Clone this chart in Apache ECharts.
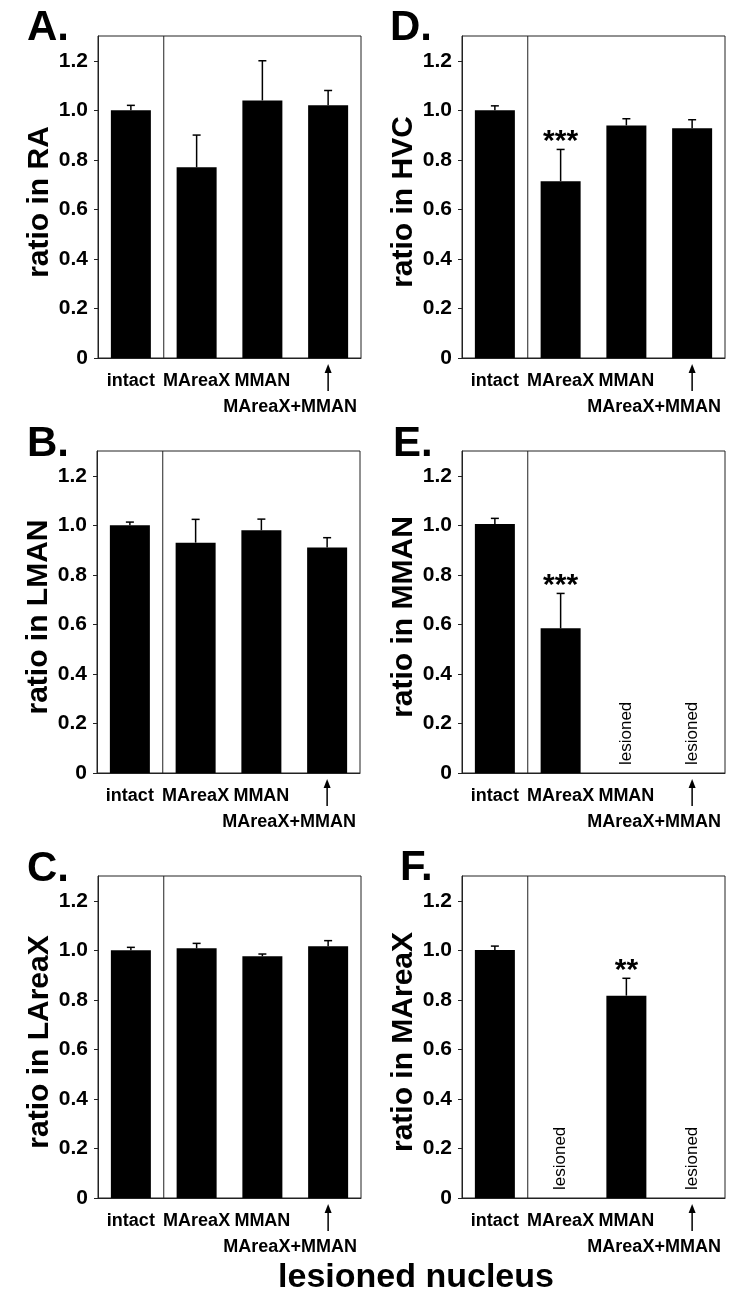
<!DOCTYPE html>
<html><head><meta charset="utf-8">
<script src="https://cdn.jsdelivr.net/npm/echarts@6/dist/echarts.min.js"></script>
<style>html,body{margin:0;padding:0;background:#fff}#c{width:750px;height:1307px}</style>
</head><body><div id="c"></div>
<script>
// ---------- data ----------
const categories = ['intact', 'MAreaX', 'MMAN', 'MAreaX+MMAN'];
const yTicks = [0, 0.2, 0.4, 0.6, 0.8, 1.0, 1.2];
const yMax = 1.3;

const meanRA = [1.00, 0.77, 1.04, 1.02];
const semRA = [0.02, 0.13, 0.16, 0.06];
const starsRA = ['', '', '', ''];

const meanLMAN = [1.00, 0.93, 0.98, 0.91];
const semLMAN = [0.013, 0.094, 0.045, 0.04];
const starsLMAN = ['', '', '', ''];

const meanLAreaX = [1.00, 1.008, 0.976, 1.016];
const semLAreaX = [0.012, 0.02, 0.009, 0.023];
const starsLAreaX = ['', '', '', ''];

const meanHVC = [1.00, 0.714, 0.939, 0.928];
const semHVC = [0.018, 0.128, 0.027, 0.034];
const starsHVC = ['', '***', '', ''];

const meanMMAN = [1.005, 0.584, null, null];
const semMMAN = [0.023, 0.141, null, null];
const starsMMAN = ['', '***', '', ''];

const meanMAreaX = [1.001, null, 0.817, null];
const semMAreaX = [0.016, null, 0.07, null];
const starsMAreaX = ['', '', '**', ''];

const panelLetters = ['A.', 'B.', 'C.', 'D.', 'E.', 'F.'];
const yTitles = ['ratio in RA', 'ratio in LMAN', 'ratio in LAreaX', 'ratio in HVC', 'ratio in MMAN', 'ratio in MAreaX'];
const xTitle = 'lesioned nucleus';
const lesionedText = 'lesioned';

// ---------- layout ----------
const FONT = '"Liberation Sans", Arial, Helvetica, sans-serif';
const panels = [
  {mean: meanRA, sem: semRA, stars: starsRA, left: 98, top: 36, gap: 36},
  {mean: meanLMAN, sem: semLMAN, stars: starsLMAN, left: 97, top: 451, gap: 36},
  {mean: meanLAreaX, sem: semLAreaX, stars: starsLAreaX, left: 98, top: 876, gap: 36},
  {mean: meanHVC, sem: semHVC, stars: starsHVC, left: 462, top: 36, gap: 42},
  {mean: meanMMAN, sem: semMMAN, stars: starsMMAN, left: 462, top: 451, gap: 42},
  {mean: meanMAreaX, sem: semMAreaX, stars: starsMAreaX, left: 462, top: 876, gap: 42}
];
const letterPos = [[27, 7], [27, 423], [27, 848], [390, 7], [393, 423], [400, 847]];

function makeRender(p) {
  return function (params, api) {
    const i = params.dataIndex;
    const children = [];
    const base = api.coord([i, 0]);
    const cx = base[0], y0 = base[1];
    const band = api.size([1, 0])[0];
    if (i === 0) {
      const t = api.coord([i, yMax]);
      children.push({type: 'line', shape: {x1: cx + band / 2, y1: t[1], x2: cx + band / 2, y2: y0},
        style: {stroke: '#222', lineWidth: 1}});
    }
    if (p.mean[i] == null) {
      children.push({type: 'text', x: cx, y: y0 - 8, rotation: Math.PI / 2,
        style: {text: lesionedText, fontSize: 17, fontFamily: FONT, fontWeight: 'normal', fill: '#000',
          align: 'left', verticalAlign: 'middle'}});
    } else if (p.sem[i] != null) {
      const m = api.coord([i, p.mean[i]]);
      const t = api.coord([i, p.mean[i] + p.sem[i]]);
      children.push({type: 'line', shape: {x1: cx, y1: m[1], x2: cx, y2: t[1]}, style: {stroke: '#000', lineWidth: 1.5}});
      children.push({type: 'line', shape: {x1: cx - 4, y1: t[1], x2: cx + 4, y2: t[1]}, style: {stroke: '#000', lineWidth: 1.5}});
      if (p.stars[i]) {
        children.push({type: 'text', x: cx, y: t[1] - 8,
          style: {text: p.stars[i], fontSize: 30, fontFamily: FONT, fontWeight: 'bold', fill: '#000',
            align: 'center', verticalAlign: 'middle'}});
      }
    }
    if (i === categories.length - 1) {
      children.push({type: 'line', shape: {x1: cx, y1: y0 + 9, x2: cx, y2: y0 + 33}, style: {stroke: '#000', lineWidth: 1.5}});
      children.push({type: 'polygon', shape: {points: [[cx, y0 + 6], [cx - 3.5, y0 + 15], [cx + 3.5, y0 + 15]]}, style: {fill: '#000'}});
    }
    return {type: 'group', children: children};
  };
}

const grid = [], xAxis = [], yAxis = [], series = [], title = [];
panels.forEach((p, k) => {
  grid.push({left: p.left, top: p.top, width: 263, height: 322, show: true, borderColor: '#222', borderWidth: 1,
    backgroundColor: 'transparent', containLabel: false, outerBoundsMode: 'none'});
  xAxis.push({
    type: 'category', gridIndex: k, data: categories, boundaryGap: true,
    axisLine: {show: true, lineStyle: {color: '#222', width: 1}},
    axisTick: {show: false},
    axisLabel: {
      interval: 0, margin: 10, color: '#000', fontSize: 18, fontWeight: 'bold', fontFamily: FONT, lineHeight: 26,
      hideOverlap: false,
      formatter: (v, idx) => idx === categories.length - 1 ? '\n{s|' + v + '}' : v,
      rich: {s: {fontSize: 18, fontWeight: 'bold', fontFamily: FONT, color: '#000', lineHeight: 26, padding: [0, 76, 0, 0]}}
    },
    splitLine: {show: false}
  });
  yAxis.push({
    type: 'value', gridIndex: k, min: 0, max: yMax,
    name: yTitles[k], nameLocation: 'middle', nameGap: p.gap,
    nameTextStyle: {fontSize: 30, fontWeight: 'bold', fontFamily: FONT, color: '#000', padding: [0, 10, 0, 0]},
    axisLine: {show: true, lineStyle: {color: '#222', width: 1}},
    axisTick: {show: true, inside: false, length: 4, customValues: yTicks, lineStyle: {color: '#222', width: 1}},
    axisLabel: {show: true, margin: 10, customValues: yTicks, color: '#000', fontSize: 21, fontWeight: 'bold', fontFamily: FONT,
      formatter: v => v === 0 ? '0' : v.toFixed(1)},
    splitLine: {show: false}
  });
  series.push({type: 'bar', xAxisIndex: k, yAxisIndex: k, data: p.mean, barWidth: 40,
    itemStyle: {color: '#000'}, silent: true, animation: false});
  series.push({type: 'custom', xAxisIndex: k, yAxisIndex: k, clip: false, silent: true, animation: false, z: 5,
    data: categories.map((c, i) => [i, 0]), renderItem: makeRender(p)});
  title.push({text: panelLetters[k], left: letterPos[k][0], top: letterPos[k][1], padding: 0,
    textStyle: {fontSize: 42, fontWeight: 'bold', fontFamily: FONT, color: '#000'}});
});
title.push({text: xTitle, left: 416, top: 1261, textAlign: 'center', padding: 0,
  textStyle: {fontSize: 34, fontWeight: 'bold', fontFamily: FONT, color: '#000'}});

const chart = echarts.init(document.getElementById('c'), null, {renderer: 'canvas'});
chart.setOption({animation: false, backgroundColor: '#fff', title, grid, xAxis, yAxis, series});
</script>
</body></html>
